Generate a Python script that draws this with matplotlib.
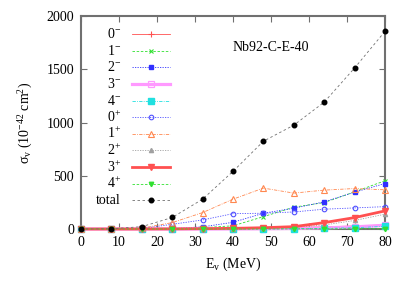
import matplotlib
matplotlib.use("Agg")
import matplotlib.pyplot as plt

plt.rcParams['font.family'] = ['Liberation Serif', 'DejaVu Serif']
plt.rcParams['mathtext.fontset'] = 'custom'
plt.rcParams['mathtext.rm'] = 'Liberation Serif'
plt.rcParams['mathtext.it'] = 'Liberation Serif:italic'

energy = [0, 8, 16, 24, 32, 40, 48, 56, 64, 72, 80]
s_0m = [0, 0, 0, 0, 1, 3, 8, 14, 20, 28, 38]
s_1m = [0, 0, 0, 3, 12, 30, 116, 205, 248, 349, 453]
s_2m = [0, 0, 1, 5, 20, 63, 148, 195, 255, 346, 427]
s_3m = [0, 0, 0, 0, 0, 1, 2, 5, 10, 20, 35]
s_4m = [0, 0, 0, 0, 0, 0, 1, 3, 6, 12, 25]
s_0p = [0, 0, 5, 44, 85, 144, 148, 160, 186, 198, 210]
s_1p = [0, 0, 8, 60, 154, 280, 384, 337, 365, 380, 368]
s_2p = [0, 0, 0, 0, 1, 3, 8, 15, 38, 80, 139]
s_3p = [0, 0, 0, 1, 3, 6, 12, 22, 60, 107, 170]
s_4p = [0, 0, 0, 0, 0, 0, 0, 1, 1, 2, 3]
s_tot = [0, 2, 22, 108, 280, 541, 824, 975, 1191, 1512, 1856]

labels = [r'$\mathrm{0^{-}}$', r'$\mathrm{1^{-}}$', r'$\mathrm{2^{-}}$', r'$\mathrm{3^{-}}$',
          r'$\mathrm{4^{-}}$', r'$\mathrm{0^{+}}$', r'$\mathrm{1^{+}}$', r'$\mathrm{2^{+}}$',
          r'$\mathrm{3^{+}}$', r'$\mathrm{4^{+}}$', 'total']
series = [s_0m, s_1m, s_2m, s_3m, s_4m, s_0p, s_1p, s_2p, s_3p, s_4p, s_tot]

styles = [
    dict(color='#ff5050', ls='-', lw=0.6, marker='+', ms=4, mew=0.8),
    dict(color='#30e030', ls=(0, (3, 2)), lw=0.6, marker='x', ms=3.2, mew=0.8),
    dict(color='#3030ff', ls=(0, (1.5, 1.5)), lw=0.6, marker='s', ms=3),
    dict(color='#ff99ff', ls='-', lw=2.3, marker='s', ms=4.2, mfc='none', mew=0.9),
    dict(color='#20e0e0', ls=(0, (4, 1.5, 1, 1.5)), lw=0.6, marker='s', ms=3.8),
    dict(color='#5050ff', ls=(0, (1.5, 1.5)), lw=0.6, marker='o', ms=3.3, mfc='none', mew=0.8),
    dict(color='#ff8850', ls=(0, (4, 1.5, 1, 1.5)), lw=0.6, marker='^', ms=3.8, mfc='none', mew=0.8),
    dict(color='#a0a0a0', ls=(0, (1.5, 1.5)), lw=0.6, marker='^', ms=3),
    dict(color='#ff5050', ls='-', lw=2.0, marker='v', ms=4),
    dict(color='#30e030', ls=(0, (3, 2)), lw=0.6, marker='v', ms=3.2),
    dict(color='#707070', ls=(0, (3, 3)), lw=0.6, marker='o', ms=3.3, mfc='k', mec='k'),
]

fig = plt.figure(figsize=(4.09, 2.86), dpi=100)
ax = fig.add_axes([81/409, (286-229)/286, (385-81)/409, (229-16)/286])

handles = []
for ys, st in zip(series, styles):
    h, = ax.plot(energy, ys, clip_on=False, zorder=3, **st)
    handles.append(h)

ax.set_xlim(0, 80)
ax.set_ylim(0, 2000)
ax.set_xticks(range(0, 81, 10))
ax.set_yticks(range(0, 2001, 500))
ax.tick_params(direction='in', length=4, width=0.8, color='#707070', top=True, right=True,
               labelsize=10, pad=5)
for sp in ax.spines.values():
    sp.set_color('#707070')
    sp.set_linewidth(1.5)

ax.set_xlabel(r'E$_\mathrm{v}$ (MeV)', fontsize=10, labelpad=5)
ax.set_ylabel(r'σ$_\mathrm{v}$ (10$^{-42}$ cm$^{2}$)', fontsize=10, labelpad=8)
ax.text(0.5, 0.85, 'Nb92-C-E-40', transform=ax.transAxes, fontsize=10, ha='left', va='center')

leg = ax.legend(handles, [''] * len(handles), loc='upper left', frameon=False,
                bbox_to_anchor=((132 - 81) / 304, (229 - 29) / 213), handlelength=2.75,
                handletextpad=0, labelspacing=0.26, borderpad=0, borderaxespad=0,
                fontsize=10)
fig.canvas.draw()
renderer = fig.canvas.get_renderer()
legh = leg.legend_handles
for h, lab in zip(legh, labels):
    bb = h.get_window_extent(renderer)
    yc = (bb.y0 + bb.y1) / 2
    fig.text(121 / 409, yc / fig.bbox.height, lab, ha='right', va='center', fontsize=10)

fig.savefig('out.png', dpi=100)
